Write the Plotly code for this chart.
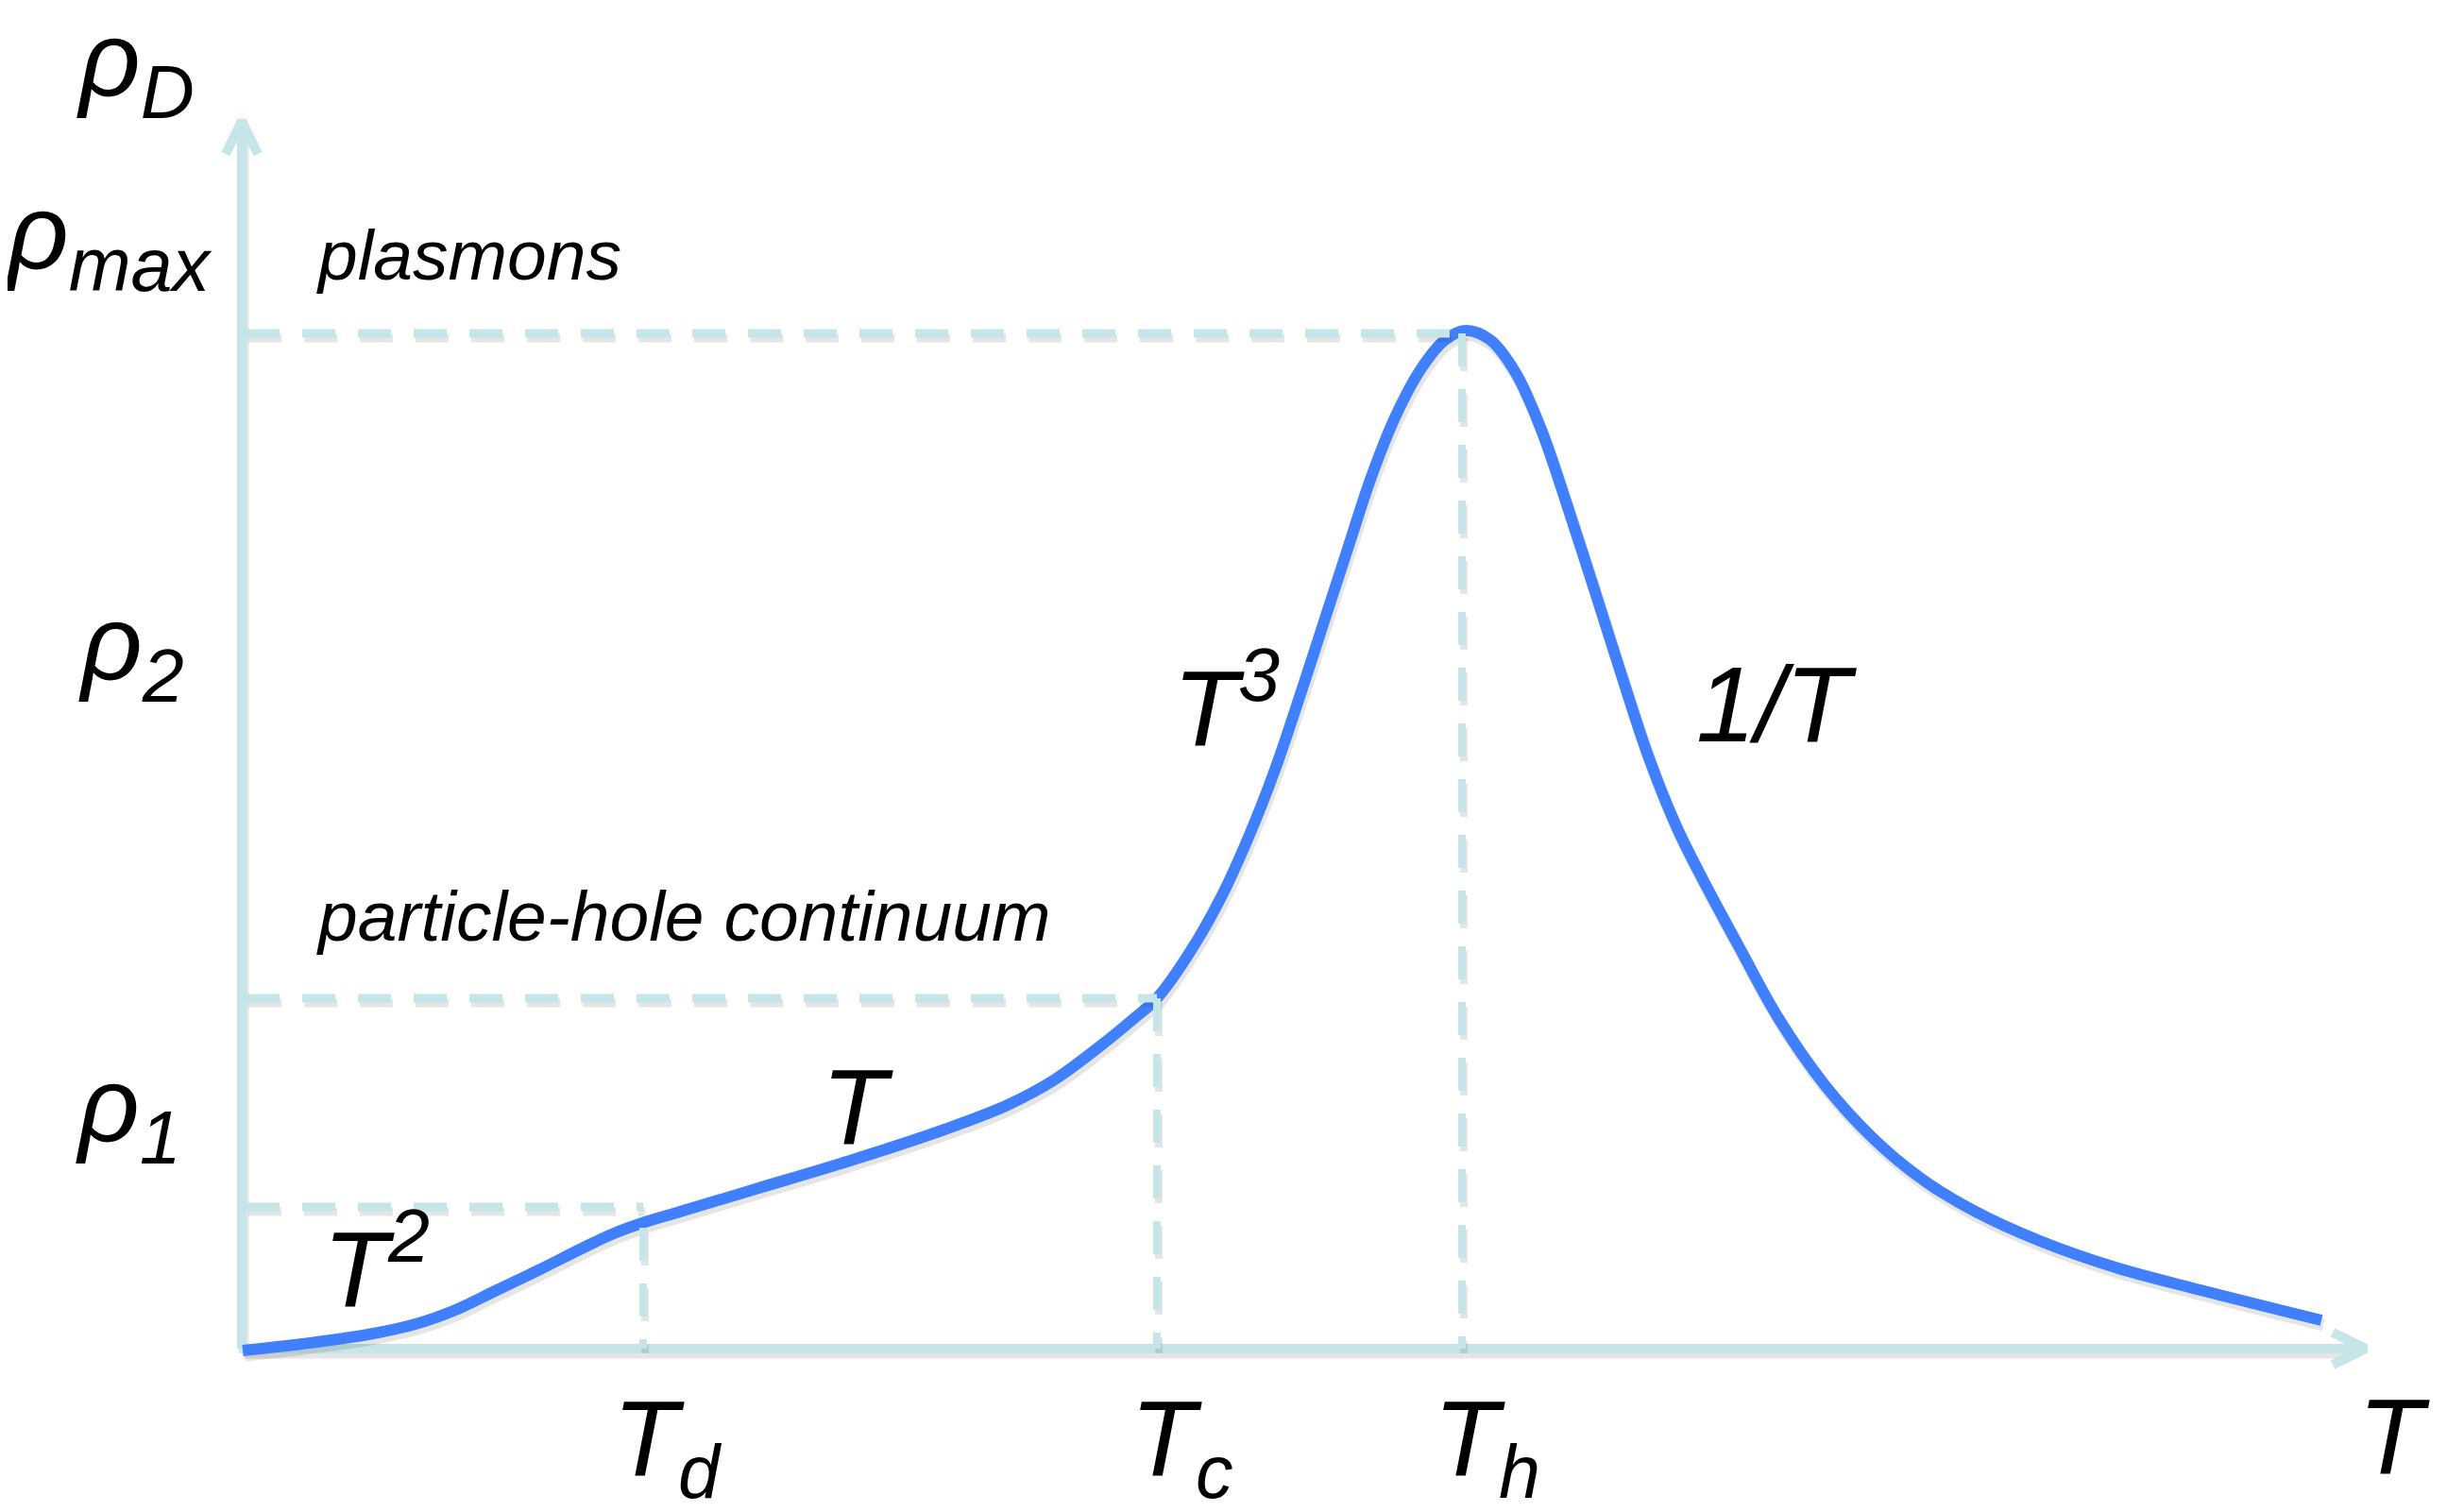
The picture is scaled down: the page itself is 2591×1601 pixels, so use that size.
import plotly.graph_objects as go

# ---------------- data (T and rho in arbitrary units) ----------------
T_curve = [0.01, 0.64, 1.34, 1.84, 2.24, 2.64, 3.14, 3.64, 3.94, 4.24, 4.64, 5.44, 6.44,
           7.44, 8.11, 8.61, 9.11, 9.44, 9.69, 10.04, 10.37, 10.67, 10.94, 11.21, 11.47,
           11.72, 11.96, 12.22, 12.49, 12.74, 12.96,
           13.22, 13.49, 13.76, 14.04, 14.34, 14.61, 14.89, 15.19, 15.49, 15.84, 16.27,
           16.77, 17.27, 17.77, 18.34, 19.04, 19.84, 20.74, 22.02]
rho_curve = [-0.02, 0.05, 0.15, 0.26, 0.40, 0.59, 0.83, 1.08, 1.22, 1.33, 1.45, 1.69, 1.99,
             2.32, 2.58, 2.85, 3.22, 3.49, 3.71, 4.20, 4.78, 5.44, 6.13, 6.93, 7.73,
             8.50, 9.23, 9.88, 10.38, 10.68, 10.78,
             10.68, 10.33, 9.73, 8.91, 7.98, 7.13, 6.28, 5.53, 4.93, 4.28, 3.50,
             2.78, 2.23, 1.81, 1.46, 1.14, 0.86, 0.62, 0.30]

# characteristic temperatures and levels
T_keys = [4.25, 9.69, 12.92]              # T_d, T_c, T_h
T_key_labels = ["T<sub>d</sub>", "T<sub>c</sub>", "T<sub>h</sub>"]
rho_guides = [1.50, 3.71, 10.75]          # horizontal guide levels
rho_vguides = [1.28, 3.71, 10.75]         # top of vertical guides

# axis extents
T_axis_max = 22.49
rho_axis_max = 13.0

# rho-axis labels
rho_label_text = ["\u03c1<sub>D</sub>", "\u03c1<sub>max</sub>", "\u03c1<sub>2</sub>", "\u03c1<sub>1</sub>"]
rho_label_T = [-1.13, -1.41, -1.17, -1.20]
rho_label_rho = [13.58, 11.75, 7.40, 2.51]

# regime labels on the curve
regime_text = ["T<sup>2</sup>", "T", "T<sup>3</sup>", "1/T"]
regime_T = [1.42, 6.52, 10.42, 16.25]
regime_rho = [0.93, 2.56, 6.87, 6.82]

# descriptive texts
desc_text = ["plasmons", "particle-hole continuum"]
desc_T = [2.40, 4.67]
desc_rho = [11.58, 4.58]

# ---------------- styles ----------------
AXIS_C = "#c6e5e8"
CURVE_C = "#4080ff"
SHADOW_C = "rgba(0,0,0,0.10)"
FONT = "Liberation Sans, Arial, sans-serif"
BIG = 113
MID = 75

fig = go.Figure()

# shadows (offset copies)
sdx, sdy = 0.02, -0.05
fig.add_trace(go.Scatter(x=[0 + sdx, T_axis_max - 0.1 + sdx], y=[0 + sdy, 0 + sdy], mode="lines",
                         line=dict(color=SHADOW_C, width=11), hoverinfo="skip"))
fig.add_trace(go.Scatter(x=[0 + sdx, 0 + sdx], y=[0 + sdy, rho_axis_max - 0.1 + sdy], mode="lines",
                         line=dict(color=SHADOW_C, width=11), hoverinfo="skip"))

# axes
fig.add_trace(go.Scatter(x=[0, T_axis_max - 0.05], y=[0, 0], mode="lines",
                         line=dict(color=AXIS_C, width=10), hoverinfo="skip"))
fig.add_trace(go.Scatter(x=[0, 0], y=[0, rho_axis_max - 0.05], mode="lines",
                         line=dict(color=AXIS_C, width=10), hoverinfo="skip"))
# arrow heads (chevrons)
ah_l, ah_w = 0.35, 0.17
fig.add_trace(go.Scatter(x=[T_axis_max - ah_l, T_axis_max, T_axis_max - ah_l],
                         y=[ah_w, 0, -ah_w], mode="lines",
                         line=dict(color=AXIS_C, width=10), hoverinfo="skip"))
fig.add_trace(go.Scatter(x=[-ah_w, 0, ah_w],
                         y=[rho_axis_max - ah_l, rho_axis_max, rho_axis_max - ah_l], mode="lines",
                         line=dict(color=AXIS_C, width=10), hoverinfo="skip"))

# curve shadow + curve
fig.add_trace(go.Scatter(x=[t + sdx for t in T_curve], y=[r + sdy for r in rho_curve], mode="lines",
                         line=dict(color=SHADOW_C, width=13, shape="spline", smoothing=1.0),
                         hoverinfo="skip"))
fig.add_trace(go.Scatter(x=T_curve, y=rho_curve, mode="lines",
                         line=dict(color=CURVE_C, width=12, shape="spline", smoothing=1.0),
                         hoverinfo="skip"))

# dashed guides
DASH = "35px,24px"
for Tk, rh, rv in zip(T_keys, rho_guides, rho_vguides):
    fig.add_trace(go.Scatter(x=[0.05 + sdx, Tk + sdx], y=[rh + sdy, rh + sdy], mode="lines",
                             line=dict(color=SHADOW_C, width=9, dash=DASH), hoverinfo="skip"))
    fig.add_trace(go.Scatter(x=[Tk + sdx, Tk + sdx], y=[rv + sdy, 0.0 + sdy], mode="lines",
                             line=dict(color=SHADOW_C, width=8, dash=DASH), hoverinfo="skip"))
    fig.add_trace(go.Scatter(x=[0.05, Tk], y=[rh, rh], mode="lines",
                             line=dict(color=AXIS_C, width=9, dash=DASH), hoverinfo="skip"))
    fig.add_trace(go.Scatter(x=[Tk, Tk], y=[rv, 0.0], mode="lines",
                             line=dict(color=AXIS_C, width=8, dash=DASH), hoverinfo="skip"))

def label(x, y, text, size, xshift=0, yshift=0):
    fig.add_annotation(x=x, y=y, xref="x", yref="y", text=text, showarrow=False,
                       xanchor="center", yanchor="middle", xshift=xshift, yshift=yshift,
                       font=dict(family=FONT, size=size, color="black", style="italic"))

for t, x, y in zip(rho_label_text, rho_label_T, rho_label_rho):
    label(x, y, t, BIG)
for t, x, y in zip(regime_text, regime_T, regime_rho):
    label(x, y, t, BIG)
for t, x, y in zip(desc_text, desc_T, desc_rho):
    label(x, y, t, MID)
for t, x in zip(T_key_labels, T_keys):
    label(x, -1.03, t, BIG, xshift=26)
label(22.79, -0.93, "T", BIG)

# page body has an 8px default margin: size the figure to fit inside it
fig.update_layout(
    width=2575, height=1585,
    margin=dict(l=0, r=0, t=0, b=0),
    paper_bgcolor="white", plot_bgcolor="white",
    showlegend=False,
    xaxis=dict(range=[-2.48, 23.27], visible=False, fixedrange=True),
    yaxis=dict(range=[-1.65, 14.20], visible=False, fixedrange=True),
)

fig.write_html("out.html")
